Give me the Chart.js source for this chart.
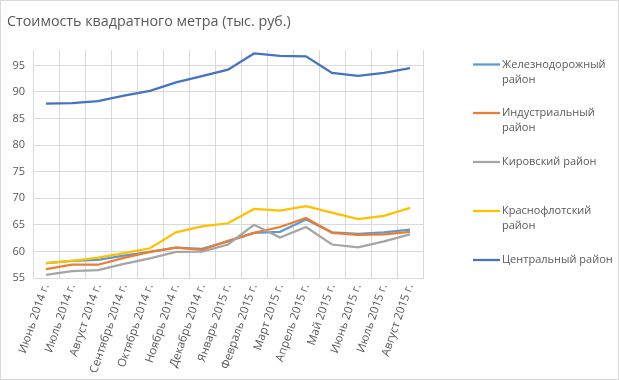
<!DOCTYPE html>
<html><head><meta charset="utf-8">
<script src="https://cdn.jsdelivr.net/npm/chart.js@4/dist/chart.umd.min.js"></script>
<style>html,body{margin:0;padding:0;background:#fff}#wrap{position:relative;width:619px;height:380px}</style>
</head><body><div id="wrap"><canvas id="c" width="619" height="380"></canvas></div>
<script>
const titleText = 'Стоимость квадратного метра (тыс. руб.)';
const categories = ['Июнь 2014 г.','Июль 2014 г.','Август 2014 г.','Сентябрь 2014 г.','Октябрь 2014 г.','Ноябрь 2014 г.','Декабрь 2014 г.','Январь 2015 г.','Февраль 2015 г.','Март 2015 г.','Апрель 2015 г.','Май 2015 г.','Июнь 2015 г.','Июль 2015 г.','Август 2015 г.'];
const seriesNames = ['Железнодорожный район','Индустриальный район','Кировский район','Краснофлотский район','Центральный район'];
const legendLines = [['Железнодорожный','район'],['Индустриальный','район'],['Кировский район'],['Краснофлотский','район'],['Центральный район']];
const zheleznodorozhny = [57.8,58.2,58.4,59.2,59.9,60.7,60.5,61.9,63.5,63.7,66.0,63.6,63.3,63.6,64.1];
const industrialny = [56.65,57.5,57.5,58.8,59.9,60.7,60.3,62.0,63.5,64.6,66.3,63.5,63.1,63.2,63.7];
const kirovsky = [55.6,56.3,56.5,57.65,58.7,59.9,59.95,61.3,65.0,62.6,64.6,61.3,60.75,61.9,63.2];
const krasnoflotsky = [57.8,58.2,58.85,59.7,60.6,63.6,64.7,65.3,68.0,67.7,68.5,67.3,66.1,66.7,68.2];
const centralny = [87.8,87.9,88.3,89.3,90.2,91.8,93.0,94.2,97.25,96.8,96.7,93.6,93.05,93.6,94.5];
const yTicks = [55,60,65,70,75,80,85,90,95];

const colors = ['#5B9BD5','#ED7D31','#A5A5A5','#FFC000','#4472C4'];
const values = [zheleznodorozhny, industrialny, kirovsky, krasnoflotsky, centralny];
const FONT = '"Open Sans", "Noto Sans", sans-serif';
const TXT = '#595959';

const decor = {
  id:'decor',
  afterDraw(chart){
    const ctx = chart.ctx;
    ctx.save();
    ctx.fillStyle = TXT;
    ctx.font = '14.3px ' + FONT;
    ctx.textBaseline = 'middle';
    ctx.textAlign = 'left';
    ctx.fillText(titleText, 7, 22);
    const ys = [64.5, 113, 162, 211, 260];
    ctx.font = '11px ' + FONT;
    legendLines.forEach((lines, i) => {
      ctx.strokeStyle = colors[i];
      ctx.lineWidth = 2.25;
      ctx.beginPath(); ctx.moveTo(473, ys[i]); ctx.lineTo(500, ys[i]); ctx.stroke();
      ctx.fillStyle = TXT;
      lines.forEach((t, j) => ctx.fillText(t, 502, ys[i] + j * 15));
    });
    ctx.strokeStyle = '#d9d9d9';
    ctx.lineWidth = 1;
    ctx.strokeRect(0.5, 0.5, 618, 379);
    ctx.restore();
  }
};

new Chart(document.getElementById('c'), {
  type:'line',
  data:{
    labels: categories,
    datasets: seriesNames.map((n, i) => ({
      label: n, data: values[i], borderColor: colors[i], backgroundColor: colors[i],
      borderWidth: 2.25, pointRadius: 0, tension: 0, order: 4 - i, fill:false
    }))
  },
  options:{
    responsive:false, animation:false,
    layout:{padding:{top:50, left:0, right:196, bottom:8}},
    plugins:{legend:{display:false}, title:{display:false}, tooltip:{enabled:false}},
    scales:{
      x:{
        offset:true,
        grid:{offset:true, color:'#d9d9d9', drawTicks:false},
        border:{color:'#d9d9d9'},
        ticks:{color:TXT, font:{family:FONT, size:11.5}, minRotation:71, maxRotation:71, autoSkip:false, padding:4},
        afterFit(s){ s.height = 94; }
      },
      y:{
        min:55, max:97.9,
        grid:{color:'#d9d9d9', drawTicks:false},
        border:{display:false},
        ticks:{color:TXT, font:{family:FONT, size:11}, padding:8},
        afterBuildTicks(s){ s.ticks = yTicks.map(v => ({value:v})); },
        afterFit(s){ s.width = 33; }
      }
    }
  },
  plugins:[decor]
});
</script></body></html>
